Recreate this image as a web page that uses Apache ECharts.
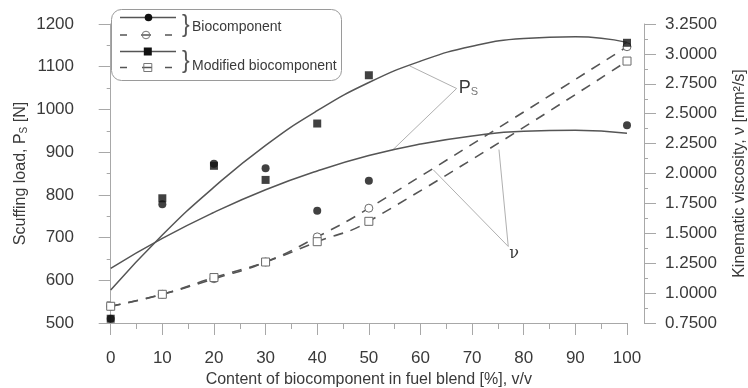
<!DOCTYPE html>
<html>
<head>
<meta charset="utf-8">
<script src="https://cdn.jsdelivr.net/npm/echarts@6/dist/echarts.min.js"></script>
<style>
  html, body { margin: 0; padding: 0; background: #fff; }
  #chart { width: 748px; height: 388px; }
</style>
</head>
<body>
<div id="chart"></div>
<script>
// Biocomponent content in the fuel blend, % v/v
const blendContent = [0, 10, 20, 30, 40, 50, 100];
// Scuffing load P_S [N]
const loadBio      = [510, 778, 873, 862, 763, 833, 963];
const loadModified = [510, 792, 868, 835, 967, 1080, 1156];
// Kinematic viscosity [mm2/s]
const viscBio      = [0.89, 0.99, 1.12, 1.26, 1.47, 1.71, 3.06];
const viscModified = [0.89, 0.99, 1.13, 1.26, 1.43, 1.60, 2.94];
// Scuffing-load trend curves, read every 10 %
const trendContent  = [0, 10, 20, 30, 40, 50, 60, 70, 80, 90, 100];
const trendModified = [577, 706, 818, 916, 997, 1063, 1113, 1148, 1166, 1170, 1157];
const trendBio      = [628, 698, 759, 812, 856, 892, 919, 938, 949, 951, 944];
// Leader lines for the curve labels: [content, value]
const psLeader = [[57.9, 1102], [67.0, 1049], [54.6, 905]];
const nuLeader = [[62.5, 2.03], [77.0, 1.39], [75.2, 2.20]];

const FONT = '"Liberation Sans", Arial, Helvetica, sans-serif';
const AXIS_GREY = '#a8a8a8';
const TEXT = '#3a3a3a';
const LINE = '#555';

const zip = (xs, ys) => xs.map((x, i) => [x, ys[i]]);

const chart = echarts.init(document.getElementById('chart'), null, { renderer: 'canvas' });

function leaderSeries(points, axisIndex, labelOpt) {
  return {
    type: 'line',
    yAxisIndex: axisIndex,
    silent: true,
    z: 1,
    symbol: 'circle',
    symbolSize: 0.1,
    showSymbol: true,
    itemStyle: { color: 'rgba(0,0,0,0)' },
    lineStyle: { color: '#b0b0b0', width: 1 },
    data: points.map((p, i) => i === 1
      ? { value: p, label: Object.assign({ show: true }, labelOpt) }
      : { value: p }),
    animation: false
  };
}

const option = {
  animation: false,
  backgroundColor: '#fff',
  textStyle: { fontFamily: FONT },
  grid: { left: 110.7, right: 121, top: 24, bottom: 65, outerBoundsMode: 'none', containLabel: false },
  xAxis: {
    type: 'value',
    min: 0, max: 100, interval: 10,
    axisLine: { show: true, lineStyle: { color: AXIS_GREY, width: 1 } },
    axisTick: { show: true, length: 12, lineStyle: { color: AXIS_GREY } },
    minorTick: { show: true, splitNumber: 2, length: 6, lineStyle: { color: AXIS_GREY } },
    splitLine: { show: false },
    axisLabel: { fontSize: 17, color: TEXT, margin: 27, fontFamily: FONT },
    name: 'Content of biocomponent in fuel blend [%], v/v',
    nameLocation: 'middle',
    nameGap: 49,
    nameMoveOverlap: false,
    nameTextStyle: { fontSize: 16, color: TEXT, fontFamily: FONT }
  },
  yAxis: [
    {
      type: 'value',
      position: 'left',
      offset: 11.7,
      min: 500, max: 1200, interval: 100,
      axisLine: { show: true, lineStyle: { color: AXIS_GREY, width: 1 } },
      axisTick: { show: true, length: 12, lineStyle: { color: AXIS_GREY } },
      minorTick: { show: true, splitNumber: 2, length: 4, lineStyle: { color: AXIS_GREY } },
      splitLine: { show: false },
      axisLabel: { fontSize: 17, color: TEXT, margin: 25, fontFamily: FONT,
        formatter: v => String(v) },
      name: 'Scuffing load, P{s|S} [N]',
      nameLocation: 'middle',
      nameRotate: 90,
      nameGap: 70,
      nameMoveOverlap: false,
      nameTextStyle: {
        fontSize: 16, color: TEXT, fontFamily: FONT,
        rich: { s: { fontSize: 10, color: TEXT, fontFamily: FONT, verticalAlign: 'bottom', padding: [6, 0, 0, 0] } }
      }
    },
    {
      type: 'value',
      position: 'right',
      offset: 17,
      min: 0.75, max: 3.25, interval: 0.25,
      axisLine: { show: true, lineStyle: { color: AXIS_GREY, width: 1 } },
      axisTick: { show: true, length: 12, lineStyle: { color: AXIS_GREY } },
      minorTick: { show: true, splitNumber: 2, length: 4, lineStyle: { color: AXIS_GREY } },
      splitLine: { show: false },
      axisLabel: { fontSize: 17, color: TEXT, margin: 21, fontFamily: FONT,
        formatter: v => v.toFixed(4) },
      name: 'Kinematic viscosity, ν [mm²/s]',
      nameLocation: 'middle',
      nameRotate: 90,
      nameGap: 88,
      nameMoveOverlap: false,
      nameTextStyle: { fontSize: 16, color: TEXT, fontFamily: FONT }
    }
  ],
  series: [
    {
      name: 'Modified biocomponent trend',
      type: 'line', yAxisIndex: 0, smooth: true, showSymbol: false, z: 2,
      lineStyle: { color: LINE, width: 1.5 },
      data: zip(trendContent, trendModified)
    },
    {
      name: 'Biocomponent trend',
      type: 'line', yAxisIndex: 0, smooth: true, showSymbol: false, z: 2,
      lineStyle: { color: LINE, width: 1.5 },
      data: zip(trendContent, trendBio)
    },
    {
      name: 'Biocomponent viscosity',
      type: 'line', yAxisIndex: 1, smooth: 0.5, z: 3,
      symbol: 'circle', symbolSize: 8,
      lineStyle: { color: LINE, width: 1.6, type: [10, 8] },
      itemStyle: { color: '#fff', borderColor: '#6a6a6a', borderWidth: 1 },
      data: zip(blendContent, viscBio)
    },
    {
      name: 'Modified biocomponent viscosity',
      type: 'line', yAxisIndex: 1, smooth: 0.5, z: 3,
      symbol: 'rect', symbolSize: 8,
      lineStyle: { color: LINE, width: 1.6, type: [10, 8] },
      itemStyle: { color: '#fff', borderColor: '#6a6a6a', borderWidth: 1 },
      data: zip(blendContent, viscModified)
    },
    {
      name: 'Biocomponent',
      type: 'scatter', yAxisIndex: 0, z: 4,
      symbol: 'circle', symbolSize: 8,
      itemStyle: { color: '#111' },
      data: zip(blendContent, loadBio)
    },
    {
      name: 'Modified biocomponent',
      type: 'scatter', yAxisIndex: 0, z: 5,
      symbol: 'rect', symbolSize: 8,
      itemStyle: { color: '#111' },
      data: zip(blendContent, loadModified)
    },
    leaderSeries(psLeader, 0, {
      position: 'right', distance: 2,
      formatter: '{p|P}{s|S}',
      rich: {
        p: { fontSize: 18, color: TEXT, fontFamily: FONT },
        s: { fontSize: 11, color: '#777', fontFamily: FONT, verticalAlign: 'bottom', padding: [7, 0, 0, 0] }
      }
    }),
    leaderSeries(nuLeader, 1, {
      position: 'right', distance: 1, offset: [0, 7],
      formatter: 'ν',
      fontSize: 16, color: TEXT, fontFamily: '"DejaVu Serif", "Liberation Serif", serif'
    })
  ],
  // Hand-drawn key: paired solid/dashed samples grouped by braces
  graphic: [
    { type: 'rect', shape: { x: 111.5, y: 9.5, width: 230, height: 71, r: 10 },
      style: { fill: '#fff', stroke: '#9a9a9a', lineWidth: 1 } },
    { type: 'line', shape: { x1: 120, y1: 17.5, x2: 176, y2: 17.5 }, style: { stroke: LINE, lineWidth: 1.5 } },
    { type: 'circle', shape: { cx: 148.5, cy: 17.5, r: 3.8 }, style: { fill: '#111' } },
    { type: 'line', shape: { x1: 120, y1: 35, x2: 127, y2: 35 }, style: { stroke: LINE, lineWidth: 1.5 } },
    { type: 'line', shape: { x1: 141, y1: 35, x2: 151, y2: 35 }, style: { stroke: LINE, lineWidth: 1.5 } },
    { type: 'line', shape: { x1: 165, y1: 35, x2: 172, y2: 35 }, style: { stroke: LINE, lineWidth: 1.5 } },
    { type: 'circle', shape: { cx: 146, cy: 35, r: 3.8 }, style: { fill: 'rgba(255,255,255,0)', stroke: '#777', lineWidth: 1 } },
    { type: 'line', shape: { x1: 120, y1: 51.5, x2: 176, y2: 51.5 }, style: { stroke: LINE, lineWidth: 1.5 } },
    { type: 'rect', shape: { x: 143.8, y: 47.5, width: 8, height: 8 }, style: { fill: '#111' } },
    { type: 'line', shape: { x1: 120, y1: 67.5, x2: 127, y2: 67.5 }, style: { stroke: LINE, lineWidth: 1.5 } },
    { type: 'line', shape: { x1: 142, y1: 67.5, x2: 152, y2: 67.5 }, style: { stroke: LINE, lineWidth: 1.5 } },
    { type: 'line', shape: { x1: 165, y1: 67.5, x2: 172, y2: 67.5 }, style: { stroke: LINE, lineWidth: 1.5 } },
    { type: 'rect', shape: { x: 143.8, y: 63.5, width: 8, height: 8 }, style: { fill: 'rgba(255,255,255,0)', stroke: '#777', lineWidth: 1 } },
    { type: 'text', style: { x: 182, y: 26, text: '}', fontSize: 23, fontFamily: FONT, fill: '#555', verticalAlign: 'middle' } },
    { type: 'text', style: { x: 182, y: 62, text: '}', fontSize: 23, fontFamily: FONT, fill: '#555', verticalAlign: 'middle' } },
    { type: 'text', style: { x: 192, y: 27, text: 'Biocomponent', fontSize: 14, fontFamily: FONT, fill: TEXT, verticalAlign: 'middle' } },
    { type: 'text', style: { x: 192, y: 66, text: 'Modified biocomponent', fontSize: 14, fontFamily: FONT, fill: TEXT, verticalAlign: 'middle' } }
  ]
};

chart.setOption(option);
</script>
</body>
</html>
